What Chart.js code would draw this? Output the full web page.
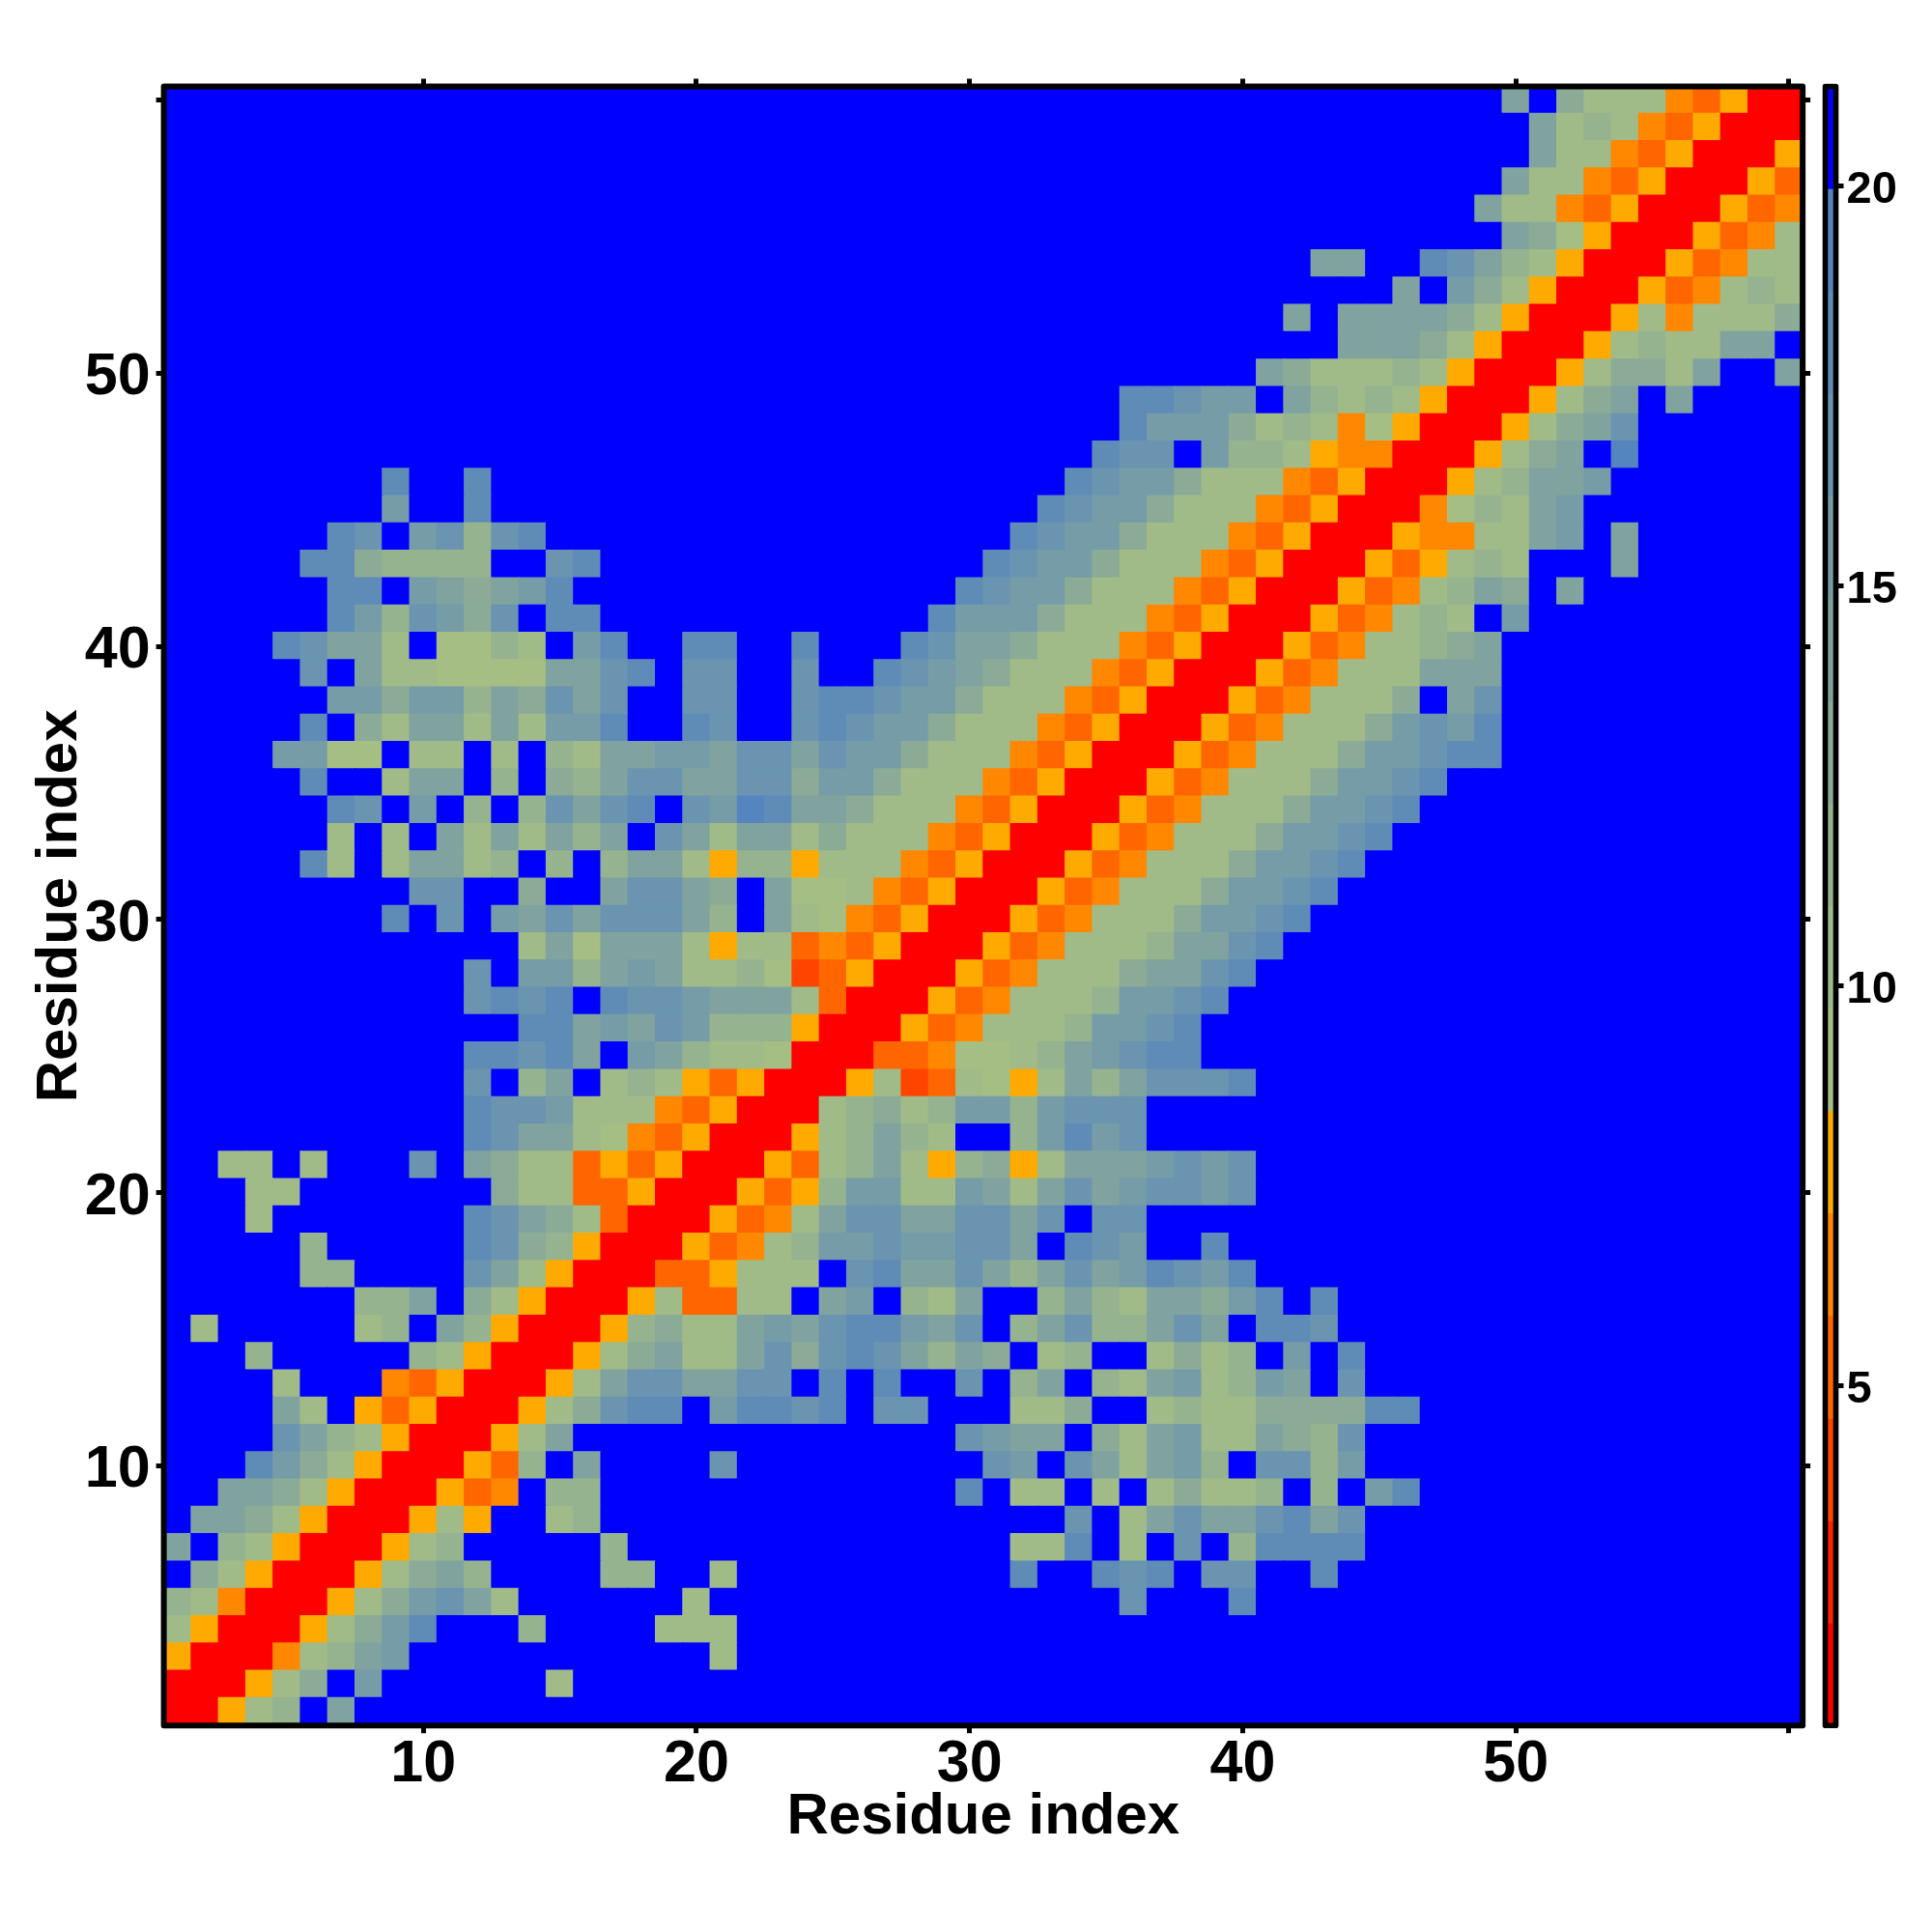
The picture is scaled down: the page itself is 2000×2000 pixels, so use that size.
<!DOCTYPE html>
<html>
<head>
<meta charset="utf-8">
<title>Residue contact map</title>
<script src="https://cdn.jsdelivr.net/npm/chart.js@4/dist/chart.umd.js"></script>
<style>
  html, body { margin: 0; padding: 0; background: #fff; }
  canvas { position: absolute; top: 0; }
</style>
</head>
<body>
<canvas id="heat" width="2000" height="2000" style="left:0"></canvas>
<canvas id="bar" width="130" height="2000" style="left:1870px"></canvas>
<script>
// colour bands, bottom to top
const bandEdges = [0.75, 2.03, 3.31, 4.59, 5.88, 7.16, 8.44, 9.72, 11, 12.28, 13.56, 14.84, 16.13, 17.41, 18.69, 19.97, 21.25];
const bandColors = ['#ff0000', '#ff2200', '#ff4400', '#ff6600', '#ff8800', '#ffaa00', '#a5be84', '#a0ba88',
                    '#96b38f', '#8bab97', '#80a39f', '#759ca7', '#6a94af', '#5f8cb7', '#5585bf', '#0000ff'];

const axisTicks = [10, 20, 30, 40, 50, 60];
const axisLabels = ['10', '20', '30', '40', '50', ''];
const barTicks = [5, 10, 15, 20];
const axisTitle = 'Residue index';

// one line per row, row 60 first. "col:levels" runs of hex band numbers, anything not listed is band f
const rowRuns = [
  '50:af977743500',
  '51:a787435000',
  '51:a774350005',
  '50:a7743500053',
  '49:a77435000534',
  '50:a9650005347',
  '43:aaffdca87500053477',
  '46:afb975000534787',
  '42:afaaaa9750005747779',
  '44:aaa97500057877aaf',
  '41:a977787500057997affa',
  '36:ddcbbfa87875000579afa',
  '36:dbbb9787465000579ac',
  '35:dccfb887544000579afe',
  '9:dffd 34:dcbb9777435000578aab',
  '9:b 12:d 33:dcbb97774350004687ab',
  '7:dcfbc8cd 32:dcbb977743500054477abfa',
  '6:dd98888ffcd 31:dcbb9777435000535787fffa',
  '7:ddfba9abd 30:dcbb977743500053478a9fa',
  '7:db8cb9cfdd 29:dbbb9777435000534787fb',
  '5:dcaa7f6687fbdffddffd 28:dcaa97774350005347789a',
  '6:cfa776666aacdfccffc 27:dcba9777435000534777aaa',
  '7:bb9bb8a9cacffccffcddcbb97774350005347779fac',
  '6:df97aa7a7bbdffdcffcdcbb97774350005347779bcbd',
  '5:bb66f77f7f87aabbaccacbb97774350005347779bbcdd',
  '6:dff7aaf8f98accaacc9bb97774350005347779bbcd',
  '7:dcfbf8f8cacdfcbedaa97774350005347779bbcd',
  '7:7f7fa7a7a8afca7aa797774350005347779bbcd',
  '6:d7f7aa78f8f8aa758857774350005347779bbcd',
  '10:ccff9ffacca9fa6674350005347779bbcd',
  '9:dfcfbacaccca8fa764350005347779bbcd',
  '14:7a6aaa757734350005347778aacd',
  '12:cfbb8aba77862350005347779aacd',
  '12:cdcdfdccbaaa730005347778bbcd',
  '14:ddabacb88850005347778bbcd',
  '12:ddcdafba87760003346678abcdd',
  '12:cf8af78753500057237657a8acccd',
  '12:dccb77743500078978bb8bccc',
  '12:dcaa76435000578a87ff8bdbc',
  '3:77f7 10:c 12:a97735350005378a758957aaabcbc',
  '4:77 13:9773350005358bb77ba7acabccbc',
  '4:7 12:dca9730005347accaaccacfcc',
  '6:8 12:dc98500053478bbcbbccafdcbffd',
  '6:88 12:ca75000335777fcdaaca8acabdcbd',
  '8:88af975000573377fabf87aff8a87aa9bdfd',
  '2:7 8:78fa8500058977abacddbacf8ac88acafddc',
  '4:8 10:875000579a77ac9cdca8a9f78ff7978fbfd',
  '5:7 9:43500057accaaccfdfdffcf8af87ab78bafc',
  '5:a7f535000579cddfbddcdfccfff779ff78779999dd',
  '5:ca87500057a 30:cbaaf97ab77a98c',
  '4:db975000538fa 21:c 31:cbfca7ab8fcc8b',
  '3:aa975000534f88 30:df77f7f79778f8fbd',
  '2:aa975000575ff78 34:cf7acaacdac',
  '1:af875000578 17:8 32:77df7fcf8dddd',
  '2:975000579a8 17:88 21:7 32:dffdcdfccffd',
  '1:874000579bca7 20:7 36:c 40:d',
  '1:75000579bd 14:8 19:777',
  '1:5000478ab 21:7',
  '1:000579fb 15:7',
  '1:00578fa'
];

const FONT = '"Liberation Sans", Arial, sans-serif';

// blue under the cells, thick black box round the plot area
const framePlugin = {
  id: 'framePlugin',
  beforeDatasetsDraw(chart) {
    const {ctx, chartArea: a} = chart;
    ctx.save();
    ctx.fillStyle = bandColors[15];
    ctx.fillRect(a.left, a.top, a.right - a.left, a.bottom - a.top);
    ctx.restore();
  },
  afterDraw(chart, args, opts) {
    const {ctx, chartArea: a} = chart;
    ctx.save();
    ctx.strokeStyle = '#000';
    ctx.lineWidth = opts.width || 6;
    ctx.lineJoin = 'round';
    ctx.strokeRect(a.left, a.top, a.right - a.left, a.bottom - a.top);
    ctx.restore();
  }
};

function rowLevels(text) {
  const levels = new Array(60).fill(15);
  text.split(' ').forEach(run => {
    const [start, hex] = run.split(':');
    [...hex].forEach((ch, i) => { levels[Number(start) - 1 + i] = parseInt(ch, 16); });
  });
  return levels;
}

const cells = [];
const cellColors = [];
rowRuns.forEach((text, idx) => {
  const row = 60 - idx;
  rowLevels(text).forEach((lvl, i) => {
    // a hair taller than the row so no seams show between cells
    cells.push({x: i + 1, y: [row - 0.5, row + 0.54]});
    cellColors.push(bandColors[lvl]);
  });
});

const setTicks = (vals) => (scale) => { scale.ticks = vals.map(value => ({value})); };
const tickGrid = {drawOnChartArea: false, drawTicks: true, tickLength: 8, tickWidth: 5, tickColor: '#000', offset: false};
const tickFont = {family: FONT, weight: 'bold', size: 61};

function axis(id, position, size, extra) {
  return Object.assign({
    type: 'linear',
    axis: id[0],
    position,
    min: 0.5,
    max: 60.5,
    offset: false,
    border: {display: false},
    grid: tickGrid,
    afterBuildTicks: setTicks(axisTicks),
    afterFit(s) {
      if (position === 'left' || position === 'right') s.width = size;
      else s.height = size;
    },
    ticks: {display: false, autoSkip: false, maxRotation: 0}
  }, extra || {});
}

const labelTicks = (padding, labelOffset) => ({
  autoSkip: false,
  maxRotation: 0,
  color: '#000',
  padding,
  labelOffset,
  font: tickFont,
  callback: v => axisLabels[axisTicks.indexOf(v)]
});

new Chart(document.getElementById('heat'), {
  type: 'bar',
  data: {
    datasets: [{
      data: cells,
      backgroundColor: cellColors,
      borderWidth: 0,
      categoryPercentage: 1,
      barPercentage: 1.04
    }]
  },
  options: {
    responsive: false,
    animation: false,
    devicePixelRatio: 1,
    layout: {padding: 0},
    plugins: {
      legend: {display: false},
      tooltip: {enabled: false},
      framePlugin: {width: 6}
    },
    scales: {
      x: axis('x', 'bottom', 213.8, {
        ticks: labelTicks(-4, 0),
        title: {display: true, text: axisTitle, color: '#000', font: {family: FONT, weight: 'bold', size: 60}, padding: {top: 0, bottom: 83}}
      }),
      y: axis('y', 'left', 169.6, {
        ticks: labelTicks(6, 5),
        title: {display: true, text: axisTitle, color: '#000', font: {family: FONT, weight: 'bold', size: 60}, padding: {top: 26, bottom: 0}}
      }),
      x2: axis('x2', 'top', 89.5),
      y2: axis('y2', 'right', 133.9)
    }
  },
  plugins: [framePlugin]
});

// colour bar
new Chart(document.getElementById('bar'), {
  type: 'bar',
  data: {
    labels: [''],
    datasets: [{
      data: bandColors.map((c, i) => ({x: '', y: [bandEdges[i], bandEdges[i + 1]]})),
      backgroundColor: bandColors,
      borderWidth: 0,
      grouped: false,
      categoryPercentage: 1,
      barPercentage: 1
    }]
  },
  options: {
    responsive: false,
    animation: false,
    devicePixelRatio: 1,
    layout: {padding: {left: 19.5, right: 0, top: 89.5, bottom: 213.8}},
    plugins: {
      legend: {display: false},
      tooltip: {enabled: false},
      framePlugin: {width: 5.6}
    },
    scales: {
      x: {display: false},
      y: {
        position: 'right',
        min: 0.75,
        max: 21.25,
        border: {display: false},
        grid: {drawOnChartArea: false, drawTicks: true, tickLength: 8, tickWidth: 5, tickColor: '#000'},
        afterBuildTicks: setTicks(barTicks),
        afterFit(s) { s.width = 99.5; },
        ticks: {color: '#000', padding: 3, labelOffset: 4.5, font: {family: FONT, weight: 'bold', size: 47}, autoSkip: false, maxRotation: 0}
      }
    }
  },
  plugins: [framePlugin]
});
</script>
</body>
</html>
